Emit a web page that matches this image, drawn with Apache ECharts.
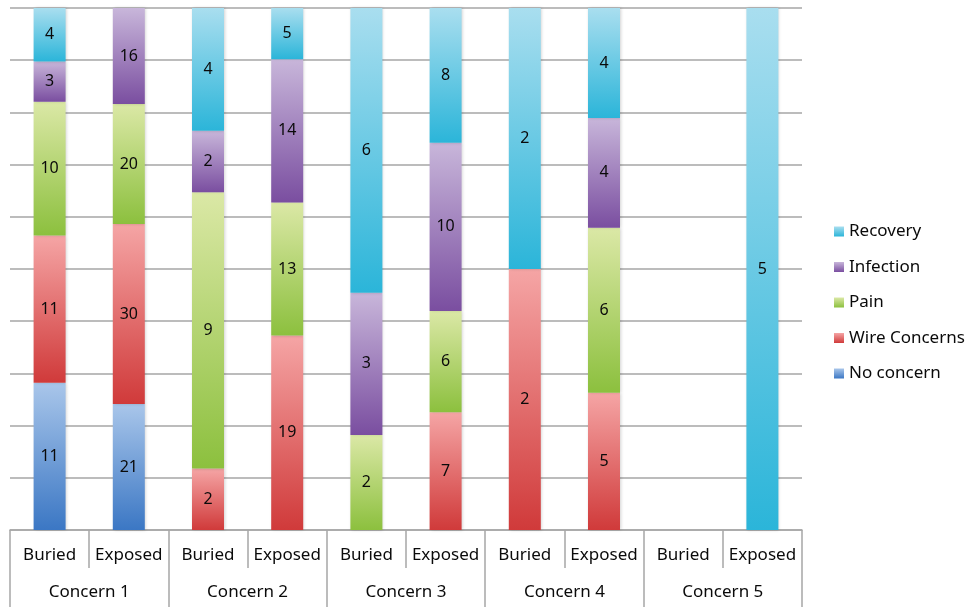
<!DOCTYPE html>
<html>
<head>
<meta charset="utf-8">
<script src="https://cdn.jsdelivr.net/npm/echarts@6/dist/echarts.min.js"></script>
<style>html,body{margin:0;padding:0;background:#fff;}#c{width:965px;height:607px;}</style>
</head>
<body>
<div id="c"></div>
<script>
var subCategories = ['Buried','Exposed','Buried','Exposed','Buried','Exposed','Buried','Exposed','Buried','Exposed'];
var groups = ['Concern 1','Concern 2','Concern 3','Concern 4','Concern 5'];
var noConcern    = [11, 21, 0, 0, 0, 0, 0, 0, 0, 0];
var wireConcerns = [11, 30, 2, 19, 0, 7, 2, 5, 0, 0];
var pain         = [10, 20, 9, 13, 2, 6, 0, 6, 0, 0];
var infection    = [3, 16, 2, 14, 3, 10, 0, 4, 0, 0];
var recovery     = [4, 0, 4, 5, 6, 8, 2, 4, 0, 5];
var seriesNames = ['No concern','Wire Concerns','Pain','Infection','Recovery'];
var legendOrder = ['Recovery','Infection','Pain','Wire Concerns','No concern'];

var raw = [noConcern, wireConcerns, pain, infection, recovery];
var gradients = [
  ['#a9c6ea','#3b77c4'],
  ['#f5a5a5','#d03a3a'],
  ['#dbe8a6','#8cc03e'],
  ['#c8b6da','#7a4ea0'],
  ['#a9deef','#2bb5d9']
];
var totals = subCategories.map(function(_, i){
  var s = 0; raw.forEach(function(a){ s += a[i]; }); return s;
});

var series = raw.map(function(arr, k){
  return {
    name: seriesNames[k],
    type: 'bar',
    stack: 'total',
    barWidth: 32,
    data: arr.map(function(v, i){ return totals[i] ? v / totals[i] * 100 : 0; }),
    itemStyle: {
      color: {type:'linear', x:0, y:0, x2:0, y2:1, colorStops:[
        {offset:0, color: gradients[k][0]}, {offset:1, color: gradients[k][1]}]},
      shadowBlur: 3, shadowColor: 'rgba(0,0,0,0.18)', shadowOffsetX: 1
    },
    label: {
      show: true, position: 'inside', color: '#0a0a0a', fontSize: 16,
      fontFamily: 'Noto Sans',
      formatter: function(p){ var v = arr[p.dataIndex]; return v ? String(v) : ''; }
    }
  };
});

var chart = echarts.init(document.getElementById('c'));
chart.setOption({
  animation: false,
  backgroundColor: '#fff',
  textStyle: {fontFamily: 'Noto Sans'},
  grid: {left: 10, right: 163, top: 8, bottom: 77, containLabel: false},
  legend: {
    orient: 'vertical', left: 829, top: 218,
    data: legendOrder, icon: 'rect', itemWidth: 10, itemHeight: 10,
    itemGap: 18.5, itemStyle: {shadowBlur: 0},
    textStyle: {fontSize: 17, color: '#0a0a0a', fontFamily: 'Noto Sans', lineHeight: 17}
  },
  xAxis: [
    {
      type: 'category', data: subCategories, position: 'bottom',
      axisLine: {show: true, lineStyle: {color: '#a6a6a6', width: 1.5}},
      axisTick: {show: true, length: 38, lineStyle: {color: '#a6a6a6', width: 1.5}},
      axisLabel: {margin: 17, fontSize: 17, color: '#0a0a0a', fontFamily: 'Noto Sans', interval: 0}
    },
    {
      type: 'category', data: groups, position: 'bottom',
      axisLine: {show: false},
      axisTick: {show: true, length: 80, lineStyle: {color: '#a6a6a6', width: 1.5}},
      axisLabel: {margin: 54, fontSize: 17, color: '#0a0a0a', fontFamily: 'Noto Sans', interval: 0}
    }
  ],
  yAxis: {
    type: 'value', min: 0, max: 100, interval: 10,
    axisLine: {show: false}, axisTick: {show: false}, axisLabel: {show: false},
    splitLine: {lineStyle: {color: '#a6a6a6', width: 1.5}}
  },
  series: series
});
</script>
</body>
</html>
